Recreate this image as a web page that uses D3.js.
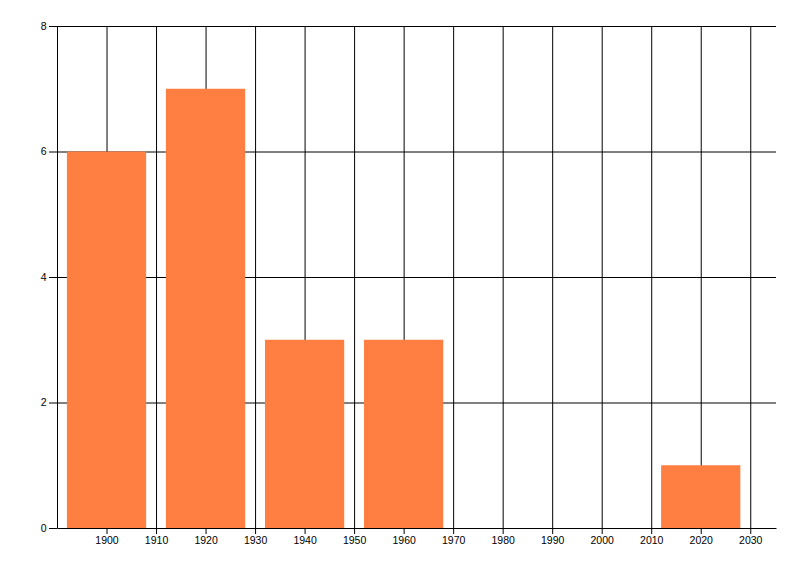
<!DOCTYPE html>
<html>
<head>
<meta charset="utf-8">
<script src="https://cdn.jsdelivr.net/npm/d3@7"></script>
<style>
  body { margin: 0; background: #fff; }
  .axis text { font-family: "Liberation Sans", Arial, sans-serif; font-size: 10.5px; fill: #000; }
  .grid line { stroke: #000; stroke-width: 1; }
  .grid .domain { display: none; }
</style>
</head>
<body>
<div id="chart"></div>
<script>
// Data
const years = [1900, 1920, 1940, 1960, 1980, 2000, 2020];
const counts = [6, 7, 3, 3, 0, 0, 1];
const xTicks = [1900, 1910, 1920, 1930, 1940, 1950, 1960, 1970, 1980, 1990, 2000, 2010, 2020, 2030];
const yTicks = [0, 2, 4, 6, 8];

const width = 800;
const height = 576;
const plot = { left: 57, right: 776, top: 26, bottom: 528 };
const barHalf = 8; // years either side of the bin centre

const svg = d3.select("#chart")
    .append("svg")
    .attr("width", width)
    .attr("height", height);

const x = d3.scaleLinear()
    .domain([1890, 2035.2])
    .range([plot.left, plot.right]);

const y = d3.scaleLinear()
    .domain([0, 8])
    .range([plot.bottom, plot.top]);

// Vertical grid lines
svg.append("g")
    .attr("class", "grid")
    .attr("transform", `translate(0,${plot.bottom})`)
    .call(d3.axisBottom(x)
        .tickValues(xTicks)
        .tickSize(-(plot.bottom - plot.top))
        .tickFormat(""));

// Horizontal grid lines
svg.append("g")
    .attr("class", "grid")
    .attr("transform", `translate(${plot.left},0)`)
    .call(d3.axisLeft(y)
        .tickValues(yTicks.filter(d => d > 0))
        .tickSize(-(plot.right - plot.left))
        .tickFormat(""));

// Bars
const data = years.map((yr, i) => ({ year: yr, value: counts[i] }));
svg.append("g")
    .selectAll("rect")
    .data(data.filter(d => d.value > 0))
    .join("rect")
    .attr("x", d => x(d.year - barHalf))
    .attr("y", d => y(d.value))
    .attr("width", d => x(d.year + barHalf) - x(d.year - barHalf))
    .attr("height", d => y(0) - y(d.value))
    .attr("fill", "#ff7f42");

// X axis
const xAxis = svg.append("g")
    .attr("class", "axis")
    .attr("transform", `translate(0,${plot.bottom})`)
    .call(d3.axisBottom(x)
        .tickValues(xTicks)
        .tickSizeInner(6)
        .tickSizeOuter(0)
        .tickPadding(3)
        .tickFormat(d3.format("d")));
xAxis.selectAll("line, path").attr("stroke", "#000");

// Y axis
const yAxis = svg.append("g")
    .attr("class", "axis")
    .attr("transform", `translate(${plot.left},0)`)
    .call(d3.axisLeft(y)
        .tickValues(yTicks)
        .tickSizeInner(8)
        .tickSizeOuter(0)
        .tickPadding(2.5));
yAxis.selectAll("line, path").attr("stroke", "#000");
</script>
</body>
</html>
